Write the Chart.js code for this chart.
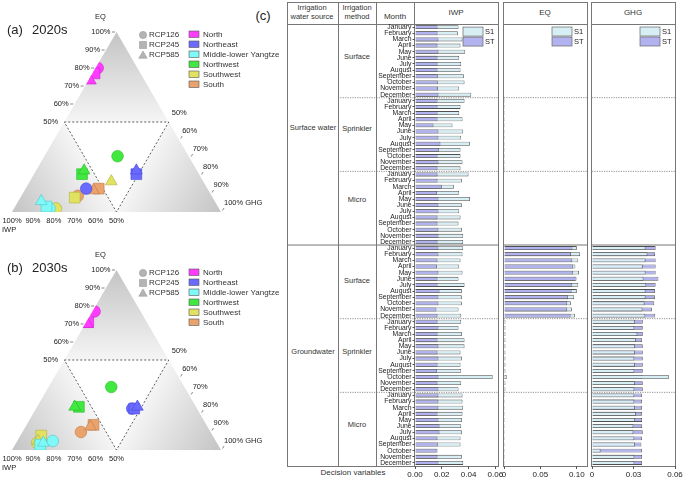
<!DOCTYPE html>
<html>
<head>
<meta charset="utf-8">
<script src="https://cdn.jsdelivr.net/npm/chart.js@4.4.0/dist/chart.umd.min.js"></script>
<style>
body { margin: 0; background: #fff; }
#wrap { position: relative; width: 685px; height: 478px; overflow: hidden; font-family: "Liberation Sans", Arial, sans-serif; color: #222; }
canvas { position: absolute; }
.ln { position: absolute; background: #777; }
.tx { position: absolute; white-space: nowrap; transform: translate(-50%, -50%); font-size: 7.5px; line-height: 1.15; text-align: center; color: #333; }
</style>
</head>
<body>
<div id="wrap">
  <!-- table frame -->
  <div class="ln" style="left:287px;top:2px;width:212px;height:1px"></div>
  <div class="ln" style="left:287px;top:24px;width:212px;height:1px"></div>
  <div class="ln" style="left:287px;top:466px;width:212px;height:1px"></div>
  <div class="ln" style="left:287px;top:2px;width:1px;height:465px"></div>
  <div class="ln" style="left:338px;top:2px;width:1px;height:465px"></div>
  <div class="ln" style="left:376px;top:2px;width:1px;height:465px"></div>
  <div class="ln" style="left:414px;top:2px;width:1px;height:465px"></div>
  <div class="ln" style="left:498px;top:2px;width:1px;height:465px"></div>
  <div class="ln" style="left:503px;top:2px;width:85px;height:1px"></div>
  <div class="ln" style="left:503px;top:24px;width:85px;height:1px"></div>
  <div class="ln" style="left:503px;top:466px;width:85px;height:1px"></div>
  <div class="ln" style="left:503px;top:2px;width:1px;height:465px"></div>
  <div class="ln" style="left:587px;top:2px;width:1px;height:465px"></div>
  <div class="ln" style="left:591px;top:2px;width:85px;height:1px"></div>
  <div class="ln" style="left:591px;top:24px;width:85px;height:1px"></div>
  <div class="ln" style="left:591px;top:466px;width:85px;height:1px"></div>
  <div class="ln" style="left:591px;top:2px;width:1px;height:465px"></div>
  <div class="ln" style="left:675px;top:2px;width:1px;height:465px"></div>

  <div class="tx" style="left:263px;top:16px;font-size:13px;color:#222">(c)</div>
  <div class="tx" style="left:312px;top:13px">Irrigation<br>water source</div>
  <div class="tx" style="left:357px;top:13px">Irrigation<br>method</div>
  <div class="tx" style="left:395px;top:17px;font-size:8px">Month</div>
  <div class="tx" style="left:456px;top:13px;font-size:8px">IWP</div>
  <div class="tx" style="left:545px;top:13px;font-size:8px">EQ</div>
  <div class="tx" style="left:633px;top:13px;font-size:8px">GHG</div>
  <div class="tx" style="left:313px;top:128px">Surface water</div>
  <div class="tx" style="left:313px;top:352px">Groundwater</div>
  <div class="tx" style="left:357px;top:57px">Surface</div>
  <div class="tx" style="left:357px;top:129px">Sprinkler</div>
  <div class="tx" style="left:357px;top:200px">Micro</div>
  <div class="tx" style="left:357px;top:281px">Surface</div>
  <div class="tx" style="left:357px;top:352px">Sprinkler</div>
  <div class="tx" style="left:357px;top:425px">Micro</div>
  <div class="tx" style="left:353px;top:473px;font-size:8px">Decision variables</div>

  <canvas id="iwpChart" width="221" height="459" style="left:287px;top:19px"></canvas>
  <canvas id="eqChart" width="105" height="459" style="left:494px;top:19px"></canvas>
  <canvas id="ghgChart" width="103" height="459" style="left:582px;top:19px"></canvas>
  <canvas id="tern2020" width="290" height="238" style="left:0px;top:0px"></canvas>
  <canvas id="tern2030" width="290" height="238" style="left:0px;top:238px"></canvas>
</div>
<script>
const months = ['January', 'February', 'March', 'April', 'May', 'June', 'July', 'August', 'September', 'October', 'November', 'December'];
// 6 blocks: surface water (surface, sprinkler, micro), groundwater (surface, sprinkler, micro)
const rowLabels = [...months, ...months, ...months, ...months, ...months, ...months];

const iwpS1 = [
  0.0325, 0.032, 0.0355, 0.034, 0.0375, 0.033, 0.0345, 0.034, 0.0365, 0.037, 0.033, 0.042,
  0.037, 0.034, 0.033, 0.0355, 0.028, 0.036, 0.0345, 0.041, 0.034, 0.034, 0.0355, 0.034,
  0.04, 0.035, 0.029, 0.033, 0.041, 0.035, 0.033, 0.034, 0.0325, 0.035, 0.036, 0.036,
  0.036, 0.0355, 0.034, 0.033, 0.0355, 0.0325, 0.037, 0.035, 0.035, 0.035, 0.0325, 0.0345,
  0.0345, 0.0325, 0.035, 0.037, 0.037, 0.034, 0.035, 0.034, 0.0345, 0.058, 0.0345, 0.0325,
  0.0355, 0.0355, 0.036, 0.0355, 0.035, 0.0345, 0.035, 0.034, 0.034, 0.016, 0.035, 0.036
];
const iwpST = [
  0.0168, 0.0168, 0.0175, 0.0168, 0.0175, 0.0168, 0.0168, 0.0168, 0.017, 0.017, 0.0172, 0.0175,
  0.0168, 0.0168, 0.0168, 0.0168, 0.0138, 0.0175, 0.0175, 0.019, 0.018, 0.0168, 0.0175, 0.0168,
  0.0168, 0.0168, 0.02, 0.0163, 0.0175, 0.0175, 0.0175, 0.0168, 0.0168, 0.0175, 0.0175, 0.0168,
  0.0175, 0.0175, 0.0168, 0.0163, 0.0175, 0.0168, 0.0168, 0.0183, 0.0175, 0.0175, 0.016, 0.0168,
  0.0168, 0.0175, 0.0168, 0.0168, 0.0175, 0.0168, 0.0175, 0.0168, 0.0163, 0.0175, 0.0168, 0.0175,
  0.0175, 0.0175, 0.0175, 0.0168, 0.0175, 0.0183, 0.0183, 0.0168, 0.017, 0.0168, 0.0168, 0.0175
];
const eqS1 = [
  0, 0, 0, 0, 0, 0, 0, 0, 0, 0, 0, 0,
  0.0012, 0.0012, 0.0012, 0.0012, 0.0012, 0.0012, 0.0012, 0.0012, 0.0012, 0.0012, 0.0012, 0.0012,
  0, 0, 0, 0, 0, 0, 0, 0, 0, 0, 0, 0,
  0.1, 0.1045, 0.102, 0.098, 0.103, 0.098, 0.102, 0.1, 0.0963, 0.0918, 0.0932, 0.0973,
  0.002, 0.002, 0.002, 0.002, 0.002, 0.002, 0.002, 0.002, 0.002, 0.0037, 0.002, 0.002,
  0.0012, 0.0012, 0.0012, 0.0012, 0.0012, 0.0012, 0.0012, 0.0012, 0.0012, 0.0012, 0.0012, 0.0012
];
const eqST = [
  0, 0, 0, 0, 0, 0, 0, 0, 0, 0, 0, 0,
  0.0012, 0.0012, 0.0012, 0.0012, 0.0012, 0.0012, 0.0012, 0.0012, 0.0012, 0.0012, 0.0012, 0.0012,
  0, 0, 0, 0, 0, 0, 0, 0, 0, 0, 0, 0,
  0.094, 0.092, 0.0937, 0.095, 0.095, 0.0996, 0.0937, 0.0928, 0.088, 0.0868, 0.0868, 0.0914,
  0.0014, 0.0014, 0.0014, 0.0014, 0.0014, 0.0014, 0.0014, 0.0014, 0.0014, 0.0014, 0.0014, 0.0014,
  0.0012, 0.0012, 0.0012, 0.0012, 0.0012, 0.0012, 0.0012, 0.0012, 0.0012, 0.0012, 0.0012, 0.0012
];
const ghgS1 = [
  0, 0, 0, 0, 0, 0, 0, 0, 0, 0, 0, 0,
  0, 0, 0, 0, 0, 0, 0, 0, 0, 0, 0, 0,
  0, 0, 0, 0, 0, 0, 0, 0, 0, 0, 0, 0,
  0.0387, 0.0401, 0.0387, 0.0367, 0.0387, 0.0372, 0.0392, 0.0387, 0.0387, 0.038, 0.0365, 0.0385,
  0.0311, 0.0306, 0.0328, 0.0318, 0.0311, 0.0311, 0.0306, 0.0311, 0.0306, 0.0555, 0.0311, 0.0306,
  0.0306, 0.0306, 0.0311, 0.0318, 0.0311, 0.0299, 0.0299, 0.0306, 0.0311, 0.0062, 0.0306, 0.0306
];
const ghgST = [
  0, 0, 0, 0, 0, 0, 0, 0, 0, 0, 0, 0,
  0, 0, 0, 0, 0, 0, 0, 0, 0, 0, 0, 0,
  0, 0, 0, 0, 0, 0, 0, 0, 0, 0, 0, 0,
  0.046, 0.0455, 0.046, 0.046, 0.046, 0.048, 0.046, 0.0455, 0.0455, 0.045, 0.0433, 0.0457,
  0.0367, 0.0367, 0.0367, 0.0362, 0.0367, 0.0367, 0.0367, 0.0367, 0.0367, 0.0367, 0.0367, 0.0367,
  0.0362, 0.0362, 0.0362, 0.0362, 0.0362, 0.0362, 0.0367, 0.0362, 0.0357, 0.0362, 0.0362, 0.0362
];

const iwpTicks = [0, 0.02, 0.04, 0.06];
const iwpTickLabels = ['0.00', '0.02', '0.04', '0.06'];
const eqTicks = [0, 0.05, 0.1];
const eqTickLabels = ['0', '0.05', '0.10'];
const ghgTicks = [0, 0.03, 0.06];
const ghgTickLabels = ['0', '0.03', '0.06'];

// ternary shares (%), rows = regions, columns = RCP126, RCP245, RCP585
const regions = ['North', 'Northeast', 'Middle-lower Yangtze', 'Northwest', 'Southwest', 'South'];
const rcps = ['RCP126', 'RCP245', 'RCP585'];
const iwp2020s = [[19, 22, 26], [58, 30, 29], [81, 82, 83], [34, 56, 54], [78, 66, 44], [64, 52, 55]];
const eq2020s  = [[80, 77, 73], [13, 21, 23], [2, 3, 6], [31, 21, 23], [2, 8, 17], [9, 13, 12]];
const ghg2020s = [[1, 1, 1], [29, 49, 48], [17, 15, 11], [35, 23, 23], [20, 26, 39], [27, 35, 33]];
const iwp2030s = [[22, 28, 29], [31, 30, 28], [78, 85, 83], [35, 56, 58], [86, 82, 85], [62, 54, 56]];
const eq2030s  = [[77, 71, 70], [23, 23, 24], [5, 3, 4], [35, 24, 24], [4, 8, 5], [10, 14, 13]];
const ghg2030s = [[1, 1, 1], [46, 47, 48], [17, 12, 13], [30, 20, 18], [10, 10, 10], [28, 32, 31]];
const ternTicks = [50, 60, 70, 80, 90, 100];

const regionColors = ['#ff3cff', '#6a6aff', '#7ff8f8', '#40e840', '#e2e262', '#eaa36c'];
const regionEdges = ['#cc20cc', '#4848d8', '#50c8c8', '#28b828', '#b0b040', '#c07a48'];
const shapeStyles = ['circle', 'rect', 'triangle'];
const shapeRadius = [5.8, 7.6, 6.8];

const FONT = '"Liberation Sans", Arial, sans-serif';
Chart.defaults.font.family = FONT;
Chart.defaults.color = '#222';

// ---------- bar panels ----------
const sectionLines = {
  id: 'sectionLines',
  beforeDatasetsDraw(chart, args, opts) {
    const { ctx, chartArea, scales: { y } } = chart;
    [12, 24, 36, 48, 60].forEach(k => {
      const py = (y.getPixelForValue(k - 1) + y.getPixelForValue(k)) / 2;
      const solid = k === 36;
      ctx.save();
      ctx.strokeStyle = '#777';
      ctx.lineWidth = solid ? 1 : 0.8;
      if (!solid) ctx.setLineDash([1.2, 1.2]);
      ctx.beginPath();
      ctx.moveTo(solid ? opts.solidFrom : opts.dashFrom, py);
      ctx.lineTo(chartArea.right, py);
      ctx.stroke();
      ctx.restore();
    });
  }
};

const barLegend = {
  id: 'barLegend',
  afterDatasetsDraw(chart) {
    const { ctx, chartArea } = chart;
    chart.data.datasets.forEach((d, i) => {
      const bx = chartArea.right - 35, by = chartArea.top + 3 + i * 10;
      ctx.save();
      ctx.fillStyle = d.backgroundColor;
      ctx.fillRect(bx, by, 20, 9);
      ctx.strokeStyle = '#666';
      ctx.lineWidth = 0.7;
      ctx.strokeRect(bx, by, 20, 9);
      ctx.fillStyle = '#222';
      ctx.font = '7.5px ' + FONT;
      ctx.textBaseline = 'middle';
      ctx.fillText(d.label, bx + 22, by + 4.8);
      ctx.restore();
    });
  }
};

function barChart(id, s1, st, max, ticks, tickLabels, s1Front, withMonths, pad) {
  return new Chart(document.getElementById(id), {
    type: 'bar',
    data: {
      labels: rowLabels,
      datasets: [
        { label: 'S1', data: s1, backgroundColor: '#d7eef4', borderColor: '#505050', borderWidth: 0.8, order: s1Front ? 0 : 1 },
        { label: 'ST', data: st, backgroundColor: '#b2b2f0', borderColor: '#505050', borderWidth: 0.8, order: s1Front ? 1 : 0 }
      ]
    },
    options: {
      indexAxis: 'y',
      responsive: false,
      animation: false,
      events: [],
      layout: { padding: pad },
      datasets: { bar: { grouped: false, barPercentage: 0.64, categoryPercentage: 1 } },
      scales: {
        x: {
          min: 0, max: max,
          afterBuildTicks: s => { s.ticks = ticks.map(v => ({ value: v })); },
          afterFit: s => { s.height = 12; },
          ticks: { callback: (v, i) => tickLabels[i], font: { size: 8 }, color: '#222', padding: 1, maxRotation: 0, autoSkip: false },
          grid: { drawOnChartArea: false, tickLength: 3, color: '#555' },
          border: { display: false }
        },
        y: {
          display: withMonths,
          afterFit: s => { if (withMonths) s.width = 128; },
          ticks: { autoSkip: false, font: { size: 6.8 }, color: '#222', padding: 1 },
          grid: { drawOnChartArea: false, offset: false, tickLength: 2.5, color: '#555' },
          border: { display: false }
        }
      },
      plugins: {
        legend: { display: false },
        tooltip: { enabled: false },
        sectionLines: withMonths ? { solidFrom: 0, dashFrom: 51 } : { solidFrom: pad.left, dashFrom: pad.left }
      }
    },
    plugins: [sectionLines, barLegend]
  });
}

barChart('iwpChart', iwpS1, iwpST, 0.062, iwpTicks, iwpTickLabels, false, true, { top: 5, right: 10, left: 0, bottom: 0 });
barChart('eqChart', eqS1, eqST, 0.114, eqTicks, eqTickLabels, false, false, { top: 5, right: 12, left: 10, bottom: 0 });
barChart('ghgChart', ghgS1, ghgST, 0.06, ghgTicks, ghgTickLabels, true, false, { top: 5, right: 10, left: 10, bottom: 0 });

// ---------- ternary panels ----------
const H = Math.sqrt(3) / 2;
function toXY(iwp, eq, ghg) {
  const s = iwp + eq + ghg;
  return { x: (ghg + eq / 2) / s, y: (eq / s) * H };
}

function shade(ctx, v, p, q) {
  const mx = (p[0] + q[0]) / 2, my = (p[1] + q[1]) / 2;
  const g = ctx.createLinearGradient(mx, my, v[0], v[1]);
  g.addColorStop(0, '#f5f5f5');
  g.addColorStop(1, '#c4c4c4');
  ctx.fillStyle = g;
  ctx.beginPath();
  ctx.moveTo(v[0], v[1]); ctx.lineTo(p[0], p[1]); ctx.lineTo(q[0], q[1]);
  ctx.closePath();
  ctx.fill();
}

const ternaryFrame = {
  id: 'ternaryFrame',
  beforeDatasetsDraw(chart) {
    const { ctx, scales: { x, y } } = chart;
    const P = (a, b, c) => { const q = toXY(a, b, c); return [x.getPixelForValue(q.x), y.getPixelForValue(q.y)]; };
    const A = P(1, 0, 0), B = P(0, 0, 1), C = P(0, 1, 0);
    const mAC = P(1, 1, 0), mBC = P(0, 1, 1), mAB = P(1, 0, 1);
    ctx.save();
    shade(ctx, C, mAC, mBC);
    shade(ctx, A, mAC, mAB);
    shade(ctx, B, mBC, mAB);

    ctx.strokeStyle = '#333';
    ctx.lineWidth = 0.8;
    ctx.setLineDash([2, 2]);
    ctx.beginPath();
    ctx.moveTo(mAC[0], mAC[1]); ctx.lineTo(mBC[0], mBC[1]); ctx.lineTo(mAB[0], mAB[1]); ctx.closePath();
    ctx.stroke();
    ctx.setLineDash([]);

    ctx.font = '7.5px ' + FONT;
    ctx.fillStyle = '#222';
    ctx.strokeStyle = '#555';
    ctx.lineWidth = 0.7;
    ctx.textBaseline = 'middle';
    ternTicks.forEach(t => {
      const f = t / 100;
      const [lx, ly] = P(1 - f, f, 0);
      ctx.textAlign = 'right';
      ctx.fillText(t + '%', lx - 6, ly);
      if (t > 50) { ctx.beginPath(); ctx.moveTo(lx - 4.5, ly); ctx.lineTo(lx - 1.5, ly); ctx.stroke(); }
      const [bx, by] = P(f, 0, 1 - f);
      ctx.textAlign = 'center';
      ctx.fillText(t + '%', bx, by + 9);
      const [rx, ry] = P(0, 1 - f, f);
      ctx.textAlign = 'left';
      ctx.fillText(t === 100 ? '100% GHG' : t + '%', rx + 3, ry - 9);
      if (t > 50) { ctx.beginPath(); ctx.moveTo(rx + 1.5, ry - 1.5); ctx.lineTo(rx + 3, ry - 4); ctx.stroke(); }
    });
    ctx.textAlign = 'center';
    ctx.fillText('EQ', C[0] - 16, C[1] - 15);
    ctx.textAlign = 'left';
    ctx.fillText('IWP', A[0] - 10, A[1] + 18);
    ctx.restore();

    // clip markers to the triangle
    ctx.save();
    ctx.beginPath();
    ctx.moveTo(A[0], A[1]); ctx.lineTo(B[0], B[1]); ctx.lineTo(C[0], C[1]); ctx.closePath();
    ctx.clip();
  },
  afterDatasetsDraw(chart, args, opts) {
    const { ctx, chartArea } = chart;
    ctx.restore();
    ctx.save();
    ctx.fillStyle = '#222';
    ctx.textBaseline = 'middle';
    ctx.font = '13px ' + FONT;
    ctx.fillText(opts.tag, 7, chartArea.top - 2);
    ctx.fillText(opts.title, 32, chartArea.top - 2);

    // shape legend
    ctx.font = '8px ' + FONT;
    const sx = chartArea.left + 131;
    rcps.forEach((r, i) => {
      const cy = chartArea.top + 3 + i * 10;
      ctx.fillStyle = '#b4b4b4';
      ctx.strokeStyle = '#9a9a9a';
      ctx.lineWidth = 0.6;
      ctx.beginPath();
      if (shapeStyles[i] === 'circle') ctx.arc(sx, cy, 3.6, 0, Math.PI * 2);
      else if (shapeStyles[i] === 'rect') ctx.rect(sx - 3.5, cy - 3.5, 7, 7);
      else { ctx.moveTo(sx, cy - 4); ctx.lineTo(sx + 4.2, cy + 3.2); ctx.lineTo(sx - 4.2, cy + 3.2); ctx.closePath(); }
      ctx.fill(); ctx.stroke();
      ctx.fillStyle = '#333';
      ctx.fillText(r, sx + 6, cy);
    });
    // region legend
    const rx = chartArea.left + 177;
    chart.data.datasets.forEach((d, i) => {
      const cy = chartArea.top + 2 + i * 10;
      ctx.fillStyle = d.backgroundColor;
      ctx.fillRect(rx, cy - 3, 10, 6.5);
      ctx.strokeStyle = '#555';
      ctx.lineWidth = 0.6;
      ctx.strokeRect(rx, cy - 3, 10, 6.5);
      ctx.fillStyle = '#333';
      ctx.fillText(d.label, rx + 14, cy + 0.3);
    });
    ctx.restore();
  }
};

function ternary(id, tag, title, iwp, eq, ghg) {
  const datasets = regions.map((r, i) => ({
    label: r,
    data: rcps.map((_, j) => toXY(iwp[i][j], eq[i][j], ghg[i][j])),
    backgroundColor: regionColors[i],
    borderColor: regionEdges[i],
    borderWidth: 0.6,
    pointStyle: shapeStyles,
    pointRadius: shapeRadius
  }));
  return new Chart(document.getElementById(id), {
    type: 'scatter',
    data: { datasets },
    options: {
      responsive: false,
      animation: false,
      events: [],
      layout: { padding: { left: 12, top: 32, right: 290 - 221, bottom: 238 - 212 } },
      scales: {
        x: { display: false, min: 0, max: 1 },
        y: { display: false, min: 0, max: H }
      },
      plugins: {
        legend: { display: false },
        tooltip: { enabled: false },
        ternaryFrame: { tag, title }
      }
    },
    plugins: [ternaryFrame]
  });
}

ternary('tern2020', '(a)', '2020s', iwp2020s, eq2020s, ghg2020s);
ternary('tern2030', '(b)', '2030s', iwp2030s, eq2030s, ghg2030s);
</script>
</body>
</html>
